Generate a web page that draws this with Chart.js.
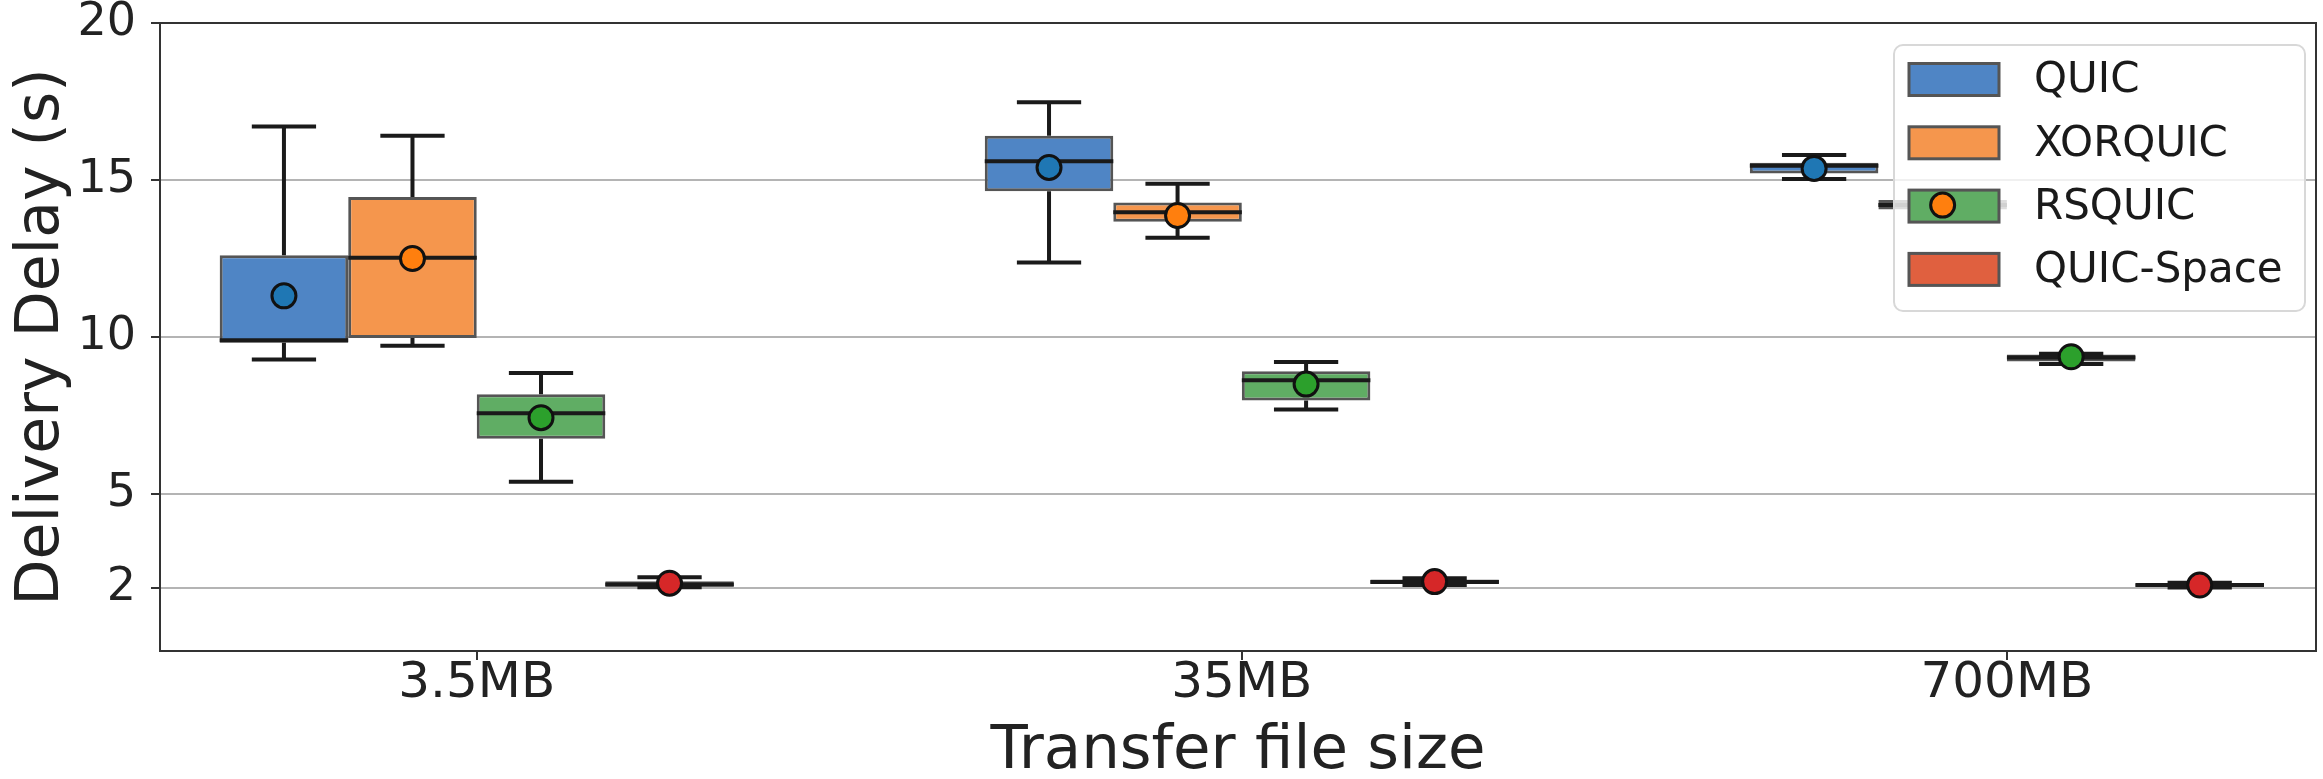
<!DOCTYPE html>
<html>
<head>
<meta charset="utf-8">
<script src="https://cdn.jsdelivr.net/npm/chart.js@4.4.1/dist/chart.umd.min.js"></script>
<style>
  html, body { margin: 0; padding: 0; background: #ffffff; }
  #wrap { width: 2323px; height: 779px; }
</style>
</head>
<body>
<div id="wrap"><canvas id="chart" width="2323" height="779"></canvas></div>
<script>
// File sizes on the x axis
const categories = ['3.5MB', '35MB', '700MB'];
const seriesNames = ['QUIC', 'XORQUIC', 'RSQUIC', 'QUIC-Space'];

// Box statistics per file size: [whiskerLow, q1, median, q3, whiskerHigh, mean]  (seconds)
const quicBoxes = [
  [9.28, 9.82, 9.90, 12.60, 16.70, 11.31],
  [12.37, 14.64, 15.60, 16.41, 17.48, 15.40],
  [15.03, 15.21, 15.45, 15.55, 15.80, 15.37]
];
const xorquicBoxes = [
  [9.72, 9.97, 12.52, 14.46, 16.41, 12.50],
  [13.16, 13.67, 13.97, 14.28, 14.88, 13.87],
  [14.00, 14.06, 14.20, 14.36, 14.43, 14.20]
];
const rsquicBoxes = [
  [5.39, 6.76, 7.57, 8.18, 8.85, 7.43],
  [7.69, 7.98, 8.62, 8.91, 9.20, 8.50],
  [9.14, 9.22, 9.35, 9.44, 9.47, 9.37]
];
const quicSpaceBoxes = [
  [2.03, 2.05, 2.12, 2.22, 2.35, 2.16],
  [2.10, 2.14, 2.20, 2.28, 2.32, 2.21],
  [2.02, 2.05, 2.10, 2.15, 2.17, 2.10]
];

// Y axis tick values
const yTicks = [2, 5, 10, 15, 20];

const allBoxes = [quicBoxes, xorquicBoxes, rsquicBoxes, quicSpaceBoxes];
const boxFills = ['#4f85c5', '#f5964d', '#60ad64', '#e0603f'];
const meanFills = ['#1f77b4', '#ff7f0e', '#2ca02c', '#d62728'];
const boxEdge = '#555555';
const inkColor = '#1a1a1a';
const FONT = "'DejaVu Sans', 'Liberation Sans', sans-serif";

Chart.defaults.font.family = FONT;

const datasets = allBoxes.map((boxes, d) => ({
  label: seriesNames[d],
  data: boxes.map((b, i) => ({ x: i, y: [b[1], b[3]] })),
  backgroundColor: boxFills[d],
  borderColor: boxEdge,
  borderWidth: 3,
  borderSkipped: false,
  categoryPercentage: 0.672,
  barPercentage: 1.0
}));

// Whiskers, medians, frame, legend and mean markers
const boxPlotDecor = {
  id: 'boxPlotDecor',
  afterDatasetsDraw(chart) {
    const { ctx, chartArea: area, scales: { y } } = chart;
    ctx.save();
    ctx.beginPath();
    ctx.rect(area.left, area.top, area.right - area.left, area.bottom - area.top);
    ctx.clip();

    // whiskers and medians
    ctx.strokeStyle = inkColor;
    ctx.lineWidth = 4;
    ctx.lineCap = 'butt';
    allBoxes.forEach((boxes, d) => {
      const meta = chart.getDatasetMeta(d);
      meta.data.forEach((bar, i) => {
        const [lo, q1, med, q3, hi] = boxes[i];
        const x = bar.x, w = bar.width;
        const yLo = y.getPixelForValue(lo), yQ1 = y.getPixelForValue(q1);
        const yMed = y.getPixelForValue(med), yQ3 = y.getPixelForValue(q3);
        const yHi = y.getPixelForValue(hi);
        ctx.beginPath();
        ctx.moveTo(x, yQ3); ctx.lineTo(x, yHi);
        ctx.moveTo(x, yQ1); ctx.lineTo(x, yLo);
        ctx.moveTo(x - w / 4, yHi); ctx.lineTo(x + w / 4, yHi);
        ctx.moveTo(x - w / 4, yLo); ctx.lineTo(x + w / 4, yLo);
        ctx.moveTo(x - w / 2, yMed); ctx.lineTo(x + w / 2, yMed);
        ctx.stroke();
      });
    });
    ctx.restore();

    // top and right spines
    ctx.save();
    ctx.strokeStyle = '#333333';
    ctx.lineWidth = 2;
    ctx.beginPath();
    ctx.moveTo(area.left, area.top); ctx.lineTo(area.right, area.top);
    ctx.lineTo(area.right, area.bottom);
    ctx.stroke();
    ctx.restore();

    // legend
    ctx.save();
    const lw = 411, lh = 266;
    const lx = area.right - 11 - lw, ly = area.top + 22;
    ctx.beginPath();
    ctx.roundRect(lx, ly, lw, lh, 9);
    ctx.fillStyle = 'rgba(255,255,255,0.8)';
    ctx.fill();
    ctx.strokeStyle = '#d8d8d8';
    ctx.lineWidth = 2;
    ctx.stroke();
    ctx.font = '42px ' + FONT;
    ctx.textBaseline = 'middle';
    ctx.textAlign = 'left';
    seriesNames.forEach((name, k) => {
      const cy = ly + 34.5 + k * 63.3;
      ctx.fillStyle = boxFills[k];
      ctx.fillRect(lx + 15, cy - 16, 90, 32);
      ctx.strokeStyle = boxEdge;
      ctx.lineWidth = 3;
      ctx.strokeRect(lx + 15, cy - 16, 90, 32);
      ctx.fillStyle = '#1a1a1a';
      ctx.fillText(name, lx + 140, cy + 2);
    });
    ctx.restore();

    // mean markers
    ctx.save();
    allBoxes.forEach((boxes, d) => {
      const meta = chart.getDatasetMeta(d);
      meta.data.forEach((bar, i) => {
        const yMean = y.getPixelForValue(boxes[i][5]);
        ctx.beginPath();
        ctx.arc(bar.x, yMean, 12, 0, Math.PI * 2);
        ctx.fillStyle = meanFills[d];
        ctx.fill();
        ctx.strokeStyle = '#111111';
        ctx.lineWidth = 3;
        ctx.stroke();
      });
    });
    ctx.restore();
  }
};

new Chart(document.getElementById('chart'), {
  type: 'bar',
  data: { datasets },
  options: {
    responsive: false,
    animation: false,
    devicePixelRatio: 1,
    layout: { padding: { top: 23, right: 7, left: 0, bottom: 0 } },
    plugins: { legend: { display: false }, tooltip: { enabled: false } },
    scales: {
      x: {
        type: 'linear',
        min: -0.414,
        max: 2.404,
        offset: false,
        afterBuildTicks: (scale) => { scale.ticks = categories.map((_, i) => ({ value: i })); },
        afterFit: (scale) => { scale.height = 128; scale.paddingLeft = 0; scale.paddingRight = 0; },
        grid: { offset: false, drawOnChartArea: false, drawTicks: true, tickLength: 9, tickColor: '#333333', lineWidth: 2 },
        border: { display: true, color: '#333333', width: 2 },
        ticks: {
          autoSkip: false, maxRotation: 0, padding: -1, color: '#222222',
          font: { size: 50, lineHeight: 1 },
          callback: (v) => categories[v] ?? ''
        },
        title: {
          display: true, text: 'Transfer file size', color: '#222222',
          font: { size: 61, lineHeight: 1 }, padding: { top: 0, bottom: -4 }
        }
      },
      y: {
        min: 0,
        max: 20,
        afterBuildTicks: (scale) => { scale.ticks = yTicks.map(v => ({ value: v })); },
        afterFit: (scale) => { scale.width = 160; scale.paddingTop = 0; scale.paddingBottom = 0; },
        grid: { color: '#b4b4b4', lineWidth: 2, drawTicks: true, tickLength: 9, tickColor: '#333333' },
        border: { display: true, color: '#333333', width: 2 },
        ticks: { padding: 15, color: '#222222', font: { size: 46, lineHeight: 1 } },
        title: {
          display: true, text: 'Delivery Delay (s)', color: '#222222',
          font: { size: 60, lineHeight: 1 }, padding: { top: 12, bottom: 0 }
        }
      }
    }
  },
  plugins: [boxPlotDecor]
});
</script>
</body>
</html>
